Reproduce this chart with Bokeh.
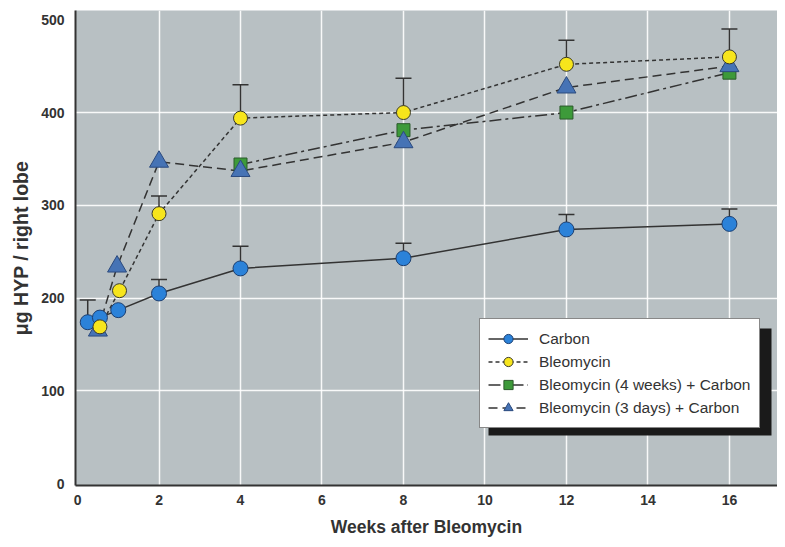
from bokeh.plotting import figure
from bokeh.models import (Range1d, FixedTicker, Legend, LegendItem, BoxAnnotation,
                          ColumnDataSource)
from bokeh.embed import file_html
from bokeh.resources import INLINE
import numpy as np

# ---- data ----
carbon_x = [0.25, 0.55, 1.0, 2, 4, 8, 12, 16]
carbon_y = [174, 179, 187, 205, 232, 243, 274, 280]
carbon_err = [24, 0, 0, 15, 24, 16, 16, 16]

bleo_x = [0.55, 1.03, 2, 4, 8, 12, 16]
bleo_y = [169, 208, 291, 394, 400, 452, 460]
bleo_err = [0, 0, 19, 36, 37, 26, 30]

bleo4_x = [4, 8, 12, 16]
bleo4_y = [344, 381, 400, 443]

bleo3_x = [0.5, 0.97, 2, 4, 8, 12, 16]
bleo3_y = [165, 234, 347, 337, 368, 427, 450]

x_ticks = [0, 2, 4, 6, 8, 10, 12, 14, 16]
y_ticks = [0, 100, 200, 300, 400, 500]
x_grid = [2, 4, 6, 8, 10, 12, 14, 16]
y_grid = [100, 200, 300, 400]

labels = ["Carbon", "Bleomycin", "Bleomycin (4 weeks) + Carbon", "Bleomycin (3 days) + Carbon"]

FONT = "Liberation Sans"
DARK = "#333333"

p = figure(width=777, height=539, output_backend="svg", toolbar_location=None,
           x_range=Range1d(-0.05, 17.18), y_range=Range1d(-2, 510),
           min_border_left=75, min_border_right=0, min_border_top=10, min_border_bottom=53)
p.background_fill_color = "#b8c0c3"
p.border_fill_color = "white"
p.outline_line_color = None

for ax in (p.xaxis[0], p.yaxis[0]):
    ax.major_tick_out = 0
    ax.major_tick_in = 0
    ax.minor_tick_out = 0
    ax.minor_tick_in = 0
    ax.axis_line_color = DARK
    ax.axis_line_width = 2
    ax.major_label_text_font = FONT
    ax.major_label_text_font_style = "bold"
    ax.major_label_text_font_size = "14px"
    ax.major_label_text_color = DARK
    ax.axis_label_text_font = FONT
    ax.axis_label_text_font_style = "bold"
    ax.axis_label_text_color = DARK

p.xaxis.ticker = FixedTicker(ticks=x_ticks)
p.yaxis.ticker = FixedTicker(ticks=y_ticks)
p.xaxis.axis_label = "Weeks after Bleomycin"
p.yaxis.axis_label = "μg HYP / right lobe"
p.xaxis.axis_label_text_font_size = "17.5px"
p.yaxis.axis_label_text_font_size = "19.5px"
p.xaxis.major_label_standoff = 9
p.xaxis.axis_label_standoff = 9
p.yaxis.major_label_standoff = 11
p.yaxis.axis_label_standoff = 6

p.xgrid.ticker = FixedTicker(ticks=x_grid)
p.ygrid.ticker = FixedTicker(ticks=y_grid)
for g in (p.xgrid[0], p.ygrid[0]):
    g.grid_line_color = "white"
    g.grid_line_width = 1.5
    g.grid_line_alpha = 0.9

# ---- lines ----
l_carbon = p.line(carbon_x, carbon_y, line_color=DARK, line_width=1.5)
l_bleo = p.line(bleo_x, bleo_y, line_color=DARK, line_width=1.5, line_dash="4 3")
l_bleo4 = p.line(bleo4_x, bleo4_y, line_color=DARK, line_width=1.5, line_dash="12 4 3 4")
l_bleo3 = p.line(bleo3_x, bleo3_y, line_color=DARK, line_width=1.5, line_dash="9 5")

# ---- error bars (upper only) ----
def err_bars(xs, ys, es):
    xs = np.array(xs, dtype=float)
    ys = np.array(ys, dtype=float)
    es = np.array(es, dtype=float)
    m = es > 0
    src = ColumnDataSource(dict(x=xs[m], y=ys[m], top=ys[m] + es[m]))
    p.segment(x0="x", y0="y", x1="x", y1="top", source=src, line_color=DARK, line_width=1.5)
    p.scatter(x="x", y="top", source=src, marker="dash", size=16, line_color=DARK, line_width=1.5)

err_bars(carbon_x, carbon_y, carbon_err)
err_bars(bleo_x, bleo_y, bleo_err)

# ---- markers ----
m_carbon = p.scatter(carbon_x, carbon_y, marker="circle", size=15,
                     fill_color="#2b82d9", line_color="#1d3f70", line_width=1)
m_bleo4 = p.scatter(bleo4_x, bleo4_y, marker="square", size=13,
                    fill_color="#3d9a3a", line_color="#2b5a2b", line_width=1)
m_bleo3 = p.scatter(bleo3_x, bleo3_y, marker="triangle", size=19,
                    fill_color="#4673b5", line_color="#2b4a7e", line_width=1)
m_bleo = p.scatter(bleo_x, bleo_y, marker="circle", size=14,
                   fill_color="#f7e51c", line_color="#3a3a2a", line_width=1)

# ---- legend with drop shadow ----
shadow = BoxAnnotation(left=413, right=696, bottom=50, top=157,
                       left_units="screen", right_units="screen",
                       bottom_units="screen", top_units="screen",
                       fill_color="#1a1a1a", fill_alpha=1, line_color=None, level="annotation")
p.add_layout(shadow)

legend = Legend(items=[
    LegendItem(label=labels[0], renderers=[l_carbon, m_carbon]),
    LegendItem(label=labels[1], renderers=[l_bleo, m_bleo]),
    LegendItem(label=labels[2], renderers=[l_bleo4, m_bleo4]),
    LegendItem(label=labels[3], renderers=[l_bleo3, m_bleo3]),
], location=(404, 57))
legend.background_fill_color = "white"
legend.background_fill_alpha = 1
legend.border_line_color = "#111111"
legend.border_line_width = 1.5
legend.padding = 8
legend.margin = 0
legend.spacing = 0
legend.label_height = 23
legend.glyph_height = 23
legend.glyph_width = 40
legend.label_standoff = 11
legend.label_text_font = FONT
legend.label_text_font_size = "15.5px"
legend.label_text_color = DARK
p.add_layout(legend)

open("out.html", "w").write(file_html(p, INLINE))
